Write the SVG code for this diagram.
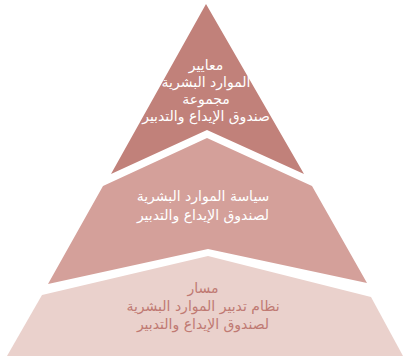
<svg xmlns="http://www.w3.org/2000/svg" width="403" height="360" viewBox="0 0 403 360">
<style>
.t{font-family:"DejaVu Sans","Noto Sans",sans-serif;font-size:14px;text-anchor:middle;direction:rtl}
.w{fill:#ffffff}
.d{fill:#c07a73}
</style>
<rect width="403" height="360" fill="#ffffff"/>
<g id="level-top">
<polygon points="206,4 304,174 207,130 111,174" fill="#c1817a"/>
<text class="t w" x="206" y="70">معايير</text>
<text class="t w" x="206" y="87">الموارد البشرية</text>
<text class="t w" x="206" y="104">مجموعة</text>
<text class="t w" x="206" y="121">صندوق الإيداع والتدبير</text>
</g>
<g id="level-middle">
<polygon points="207,138 312,186 367,283 208,249 48,284 103,186" fill="#d4a09a"/>
<text class="t w" x="203" y="201">سياسة الموارد البشرية</text>
<text class="t w" x="203" y="220">لصندوق الإيداع والتدبير</text>
</g>
<g id="level-bottom">
<polygon points="208,256 371,297 403,356 7,356 42,295" fill="#ead1cc"/>
<text class="t d" x="203" y="293">مسار</text>
<text class="t d" x="203" y="311">نظام تدبير الموارد البشرية</text>
<text class="t d" x="203" y="329">لصندوق الإيداع والتدبير</text>
</g>
<g id="connectors"/>
</svg>
